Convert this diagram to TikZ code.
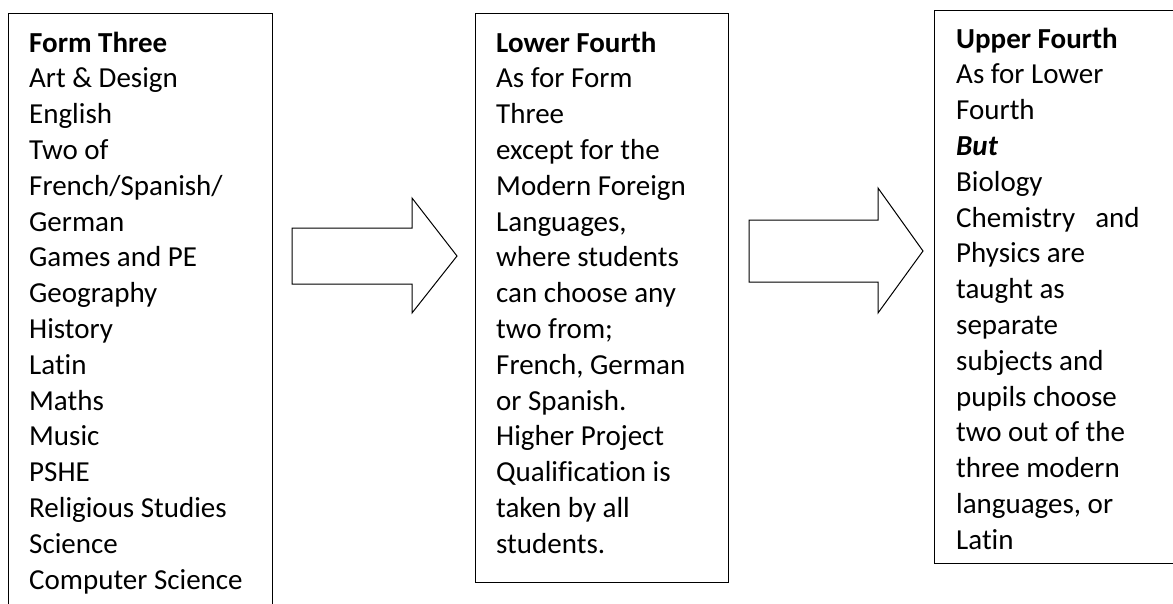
\documentclass[tikz,border=0pt]{standalone}
\usepackage{fontspec}
\setmainfont[Ligatures=NoCommon]{Carlito}
\tikzset{
  box/.style={draw=black, line width=1.4pt, rectangle, anchor=north west, inner sep=0pt},
  txt/.style={anchor=base west, inner sep=0pt, font=\fontsize{29}{35.8}\selectfont},
  blockarrow/.style={draw=black, line width=1pt, fill=white, line join=miter}
}
\newcommand{\boxlines}[1]{\vtop{\baselineskip=35.8pt\lineskiplimit=-100pt #1}}
\begin{document}
\begin{tikzpicture}[x=1pt,y=-1pt]
\useasboundingbox (0,0) rectangle (1173,603);
\node[box, minimum width=264pt, minimum height=620pt] (b1) at (8,13) {};
\node[box, minimum width=253pt, minimum height=569pt] (b2) at (475,13) {};
\node[box, minimum width=262pt, minimum height=553pt] (b3) at (934,10) {};
\node[txt] (t1) at (29,52) {\boxlines{%
\hbox{\textbf{Form Three}}
\hbox{Art \& Design}
\hbox{English}
\hbox{Two of}
\hbox{French/Spanish/}
\hbox{German}
\hbox{Games and PE}
\hbox{Geography}
\hbox{History}
\hbox{Latin}
\hbox{Maths}
\hbox{Music}
\hbox{PSHE}
\hbox{Religious Studies}
\hbox{Science}
\hbox{Computer Science}}};
\node[txt] (t2) at (496,52) {\boxlines{%
\hbox{\textbf{Lower Fourth}}
\hbox{As for Form}
\hbox{Three}
\hbox{except for the}
\hbox{Modern Foreign}
\hbox{Languages,}
\hbox{where students}
\hbox{can choose any}
\hbox{two from;}
\hbox{French, German}
\hbox{or Spanish.}
\hbox{Higher Project}
\hbox{Qualification is}
\hbox{taken by all}
\hbox{students.}}};
\node[txt] (t3) at (956,48) {\boxlines{%
\hbox{\textbf{Upper Fourth}}
\hbox{As for Lower}
\hbox{Fourth}
\hbox{\textbf{\textit{But}}}
\hbox{Biology}
\hbox{Chemistry\hspace{20pt}and}
\hbox{Physics are}
\hbox{taught as}
\hbox{separate}
\hbox{subjects and}
\hbox{pupils choose}
\hbox{two out of the}
\hbox{three modern}
\hbox{languages, or}
\hbox{Latin}}};
\coordinate (a1tail) at (292,256);
\coordinate (a1tip) at (457,256);
\draw[blockarrow] (a1tail |- 0,228) -- (412,228) -- (412,198) -- (a1tip) -- (412,313) -- (412,284) -- (a1tail |- 0,284) -- cycle;
\coordinate (a2tail) at (749,251);
\coordinate (a2tip) at (923,251);
\draw[blockarrow] (a2tail |- 0,220) -- (878,220) -- (878,188) -- (a2tip) -- (878,313) -- (878,282) -- (a2tail |- 0,282) -- cycle;
\end{tikzpicture}
\end{document}
